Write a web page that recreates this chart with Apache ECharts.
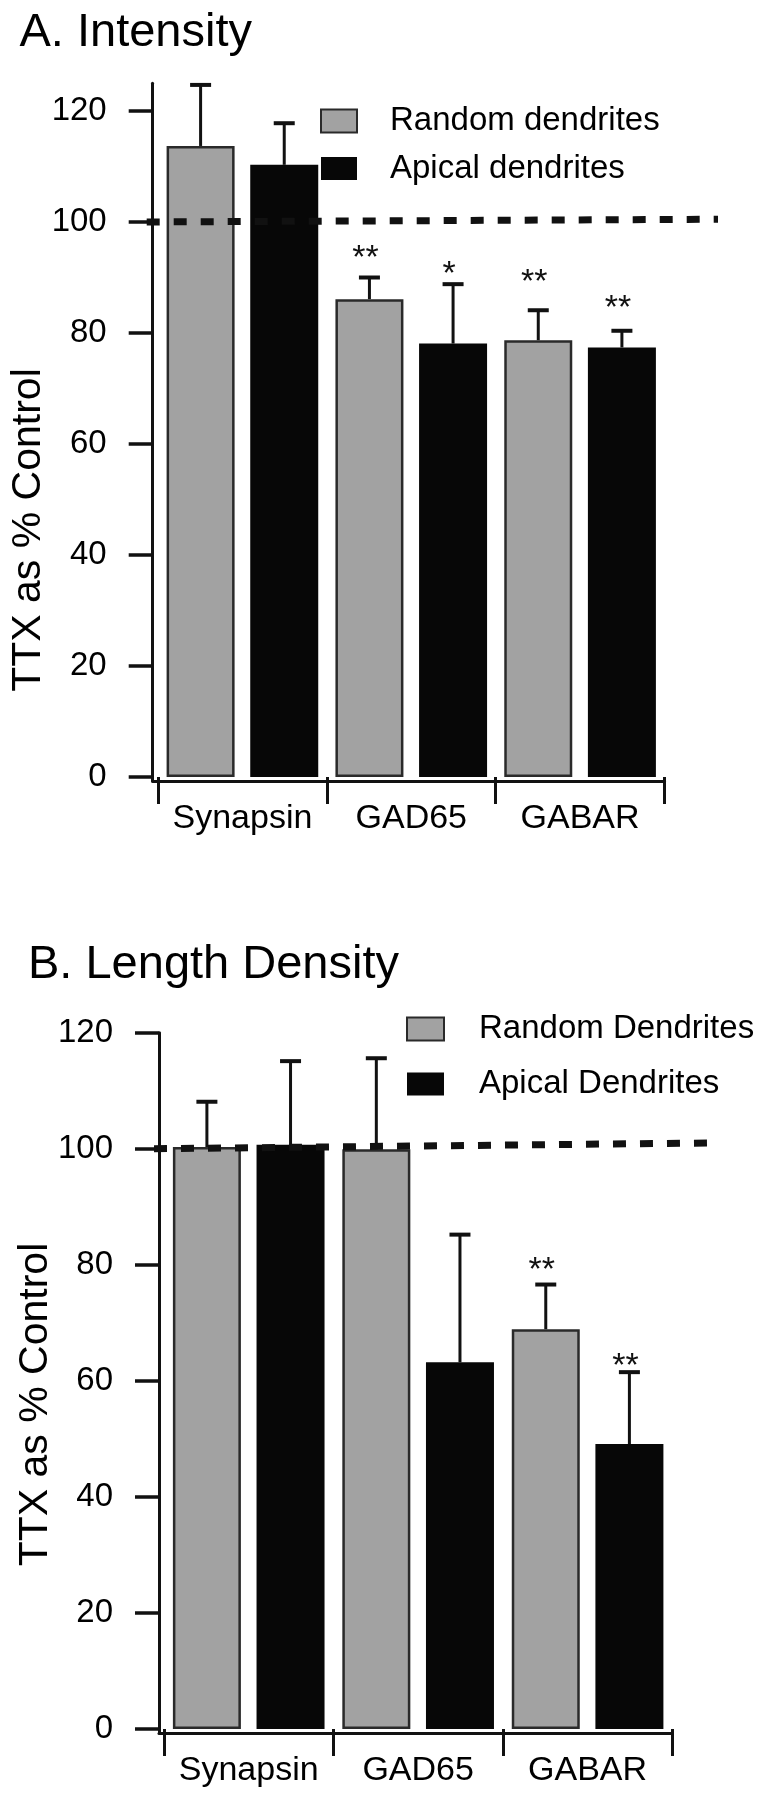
<!DOCTYPE html>
<html>
<head>
<meta charset="utf-8">
<script src="https://cdn.jsdelivr.net/npm/echarts@6/dist/echarts.min.js"></script>
<style>
html,body{margin:0;padding:0;background:#fff;}
#chart{width:775px;height:1800px;}
</style>
</head>
<body>
<div id="chart"></div>
<script>
// ---------- data ----------
const categories = ['Synapsin', 'GAD65', 'GABAR'];
const yTickValues = [0, 20, 40, 60, 80, 100, 120];

// Panel A: Intensity
const namesA = ['Random dendrites', 'Apical dendrites'];
const aRandom = [113.7, 86.1, 78.7];
const aRandomErr = [11.0, 3.9, 5.4];
const aApical = [110.3, 78.1, 77.4];
const aApicalErr = [7.5, 10.7, 3.0];
const aRandomSig = ['', '**', '**'];
const aApicalSig = ['', '*', '**'];
const aRandomSigAt = [null, 94.6, 90.3];
const aApicalSigAt = [null, 91.7, 85.6];
const aControl = [100, 100.5];

// Panel B: Length Density
const namesB = ['Random Dendrites', 'Apical Dendrites'];
const bRandom = [100.3, 99.9, 68.9];
const bRandomErr = [7.8, 15.7, 7.7];
const bApical = [100.7, 63.2, 49.1];
const bApicalErr = [14.4, 22.0, 12.4];
const bRandomSig = ['', '', '**'];
const bApicalSig = ['', '', '**'];
const bRandomSigAt = [null, null, 80.2];
const bApicalSigAt = [null, null, 63.6];
const bControl = [100, 101];

// ---------- style ----------
const FONT = '"Liberation Sans", Arial, Helvetica, sans-serif';
const INK = '#111';
const GRAY = '#a2a2a2';
const BLACK = '#070707';
const BAR_W = 68;
const BAR_GAP_PCT = 23;
const SHIFT = (BAR_W + BAR_W * BAR_GAP_PCT / 100) / 2;

function makeErr(means, errs, sig, sigAt, side) {
  return function (params, api) {
    const i = params.dataIndex;
    const cx = api.coord([i, 0])[0] + side * SHIFT;
    const yb = api.coord([i, means[i]])[1];
    const yt = api.coord([i, means[i] + errs[i]])[1];
    const children = [
      { type: 'line', shape: { x1: cx, y1: yb, x2: cx, y2: yt }, style: { stroke: INK, lineWidth: 3 } },
      { type: 'line', shape: { x1: cx - 10.5, y1: yt, x2: cx + 10.5, y2: yt }, style: { stroke: INK, lineWidth: 4 } }
    ];
    if (sig[i]) {
      const ys = api.coord([i, sigAt[i]])[1];
      children.push({
        type: 'text', x: cx - 4, y: ys + 7,
        style: { text: sig[i], font: '34px ' + FONT, fill: INK, align: 'center', verticalAlign: 'middle' }
      });
    }
    return { type: 'group', children: children };
  };
}

function panel(cfg) {
  const g = cfg.base;
  const grids = [
    { left: cfg.left, top: cfg.top, width: cfg.width, height: cfg.height },
    { left: cfg.refLeft, top: cfg.top, width: cfg.refWidth, height: cfg.height },
    { left: cfg.frameLeft, top: cfg.top, width: cfg.frameWidth, height: cfg.height + cfg.xOffset }
  ];
  const xAxes = [
    {
      gridIndex: g, type: 'category', data: categories, offset: cfg.xOffset,
      axisLine: { show: false },
      axisTick: { show: true, length: 27, lineStyle: { color: INK, width: 3 } },
      axisLabel: { fontFamily: FONT, fontSize: 34, color: '#000', margin: 21, interval: 0, hideOverlap: false },
      splitLine: { show: false }
    },
    { gridIndex: g + 1, type: 'value', min: 0, max: 1, show: false },
    {
      gridIndex: g + 2, type: 'value', min: 0, max: 1,
      axisLine: { show: true, lineStyle: { color: INK, width: 3 } },
      axisTick: { show: false }, axisLabel: { show: false }, splitLine: { show: false }
    }
  ];
  const yAxes = [
    {
      gridIndex: g, type: 'value', min: 0, max: cfg.yMax, interval: 20, offset: cfg.yOffset,
      axisLine: { show: false },
      axisTick: { show: true, length: 24, lineStyle: { color: INK, width: 3.5 }, customValues: yTickValues },
      axisLabel: {
        fontFamily: FONT, fontSize: 33, color: '#000', margin: 46, customValues: yTickValues,
        formatter: function (v) { return yTickValues.indexOf(v) >= 0 ? String(v) : ''; }
      },
      splitLine: { show: false }
    },
    { gridIndex: g + 1, type: 'value', min: 0, max: cfg.yMax, show: false },
    {
      gridIndex: g + 2, type: 'value', min: 0, max: 1,
      axisLine: { show: true, lineStyle: { color: INK, width: 3 } },
      axisTick: { show: false }, axisLabel: { show: false }, splitLine: { show: false }
    }
  ];
  const series = [
    {
      type: 'bar', name: cfg.names[0], xAxisIndex: g, yAxisIndex: g, data: cfg.random,
      barWidth: BAR_W, barGap: BAR_GAP_PCT + '%',
      itemStyle: { color: GRAY, borderColor: '#2a2a2a', borderWidth: 2.5 }, z: 2
    },
    {
      type: 'bar', name: cfg.names[1], xAxisIndex: g, yAxisIndex: g, data: cfg.apical,
      barWidth: BAR_W, barGap: BAR_GAP_PCT + '%',
      itemStyle: { color: BLACK, borderColor: BLACK, borderWidth: 0 }, z: 2
    },
    {
      type: 'custom', xAxisIndex: g, yAxisIndex: g,
      data: categories.map((c, i) => [i, cfg.random[i] + cfg.randomErr[i]]),
      encode: { x: 0, y: 1 },
      renderItem: makeErr(cfg.random, cfg.randomErr, cfg.randomSig, cfg.randomSigAt, -1), z: 4
    },
    {
      type: 'custom', xAxisIndex: g, yAxisIndex: g,
      data: categories.map((c, i) => [i, cfg.apical[i] + cfg.apicalErr[i]]),
      encode: { x: 0, y: 1 },
      renderItem: makeErr(cfg.apical, cfg.apicalErr, cfg.apicalSig, cfg.apicalSigAt, 1), z: 4
    },
    {
      type: 'line', xAxisIndex: g + 1, yAxisIndex: g + 1,
      data: [[0, cfg.control[0]], [1, cfg.control[1]]],
      symbol: 'none', silent: true,
      lineStyle: { color: INK, width: 7, type: [13, 14] }, z: 10
    }
  ];
  return { grids, xAxes, yAxes, series };
}

const pA = panel({
  base: 0, left: 158, top: 83.25, width: 506.5, height: 693.75,
  refLeft: 146.7, refWidth: 571.3, frameLeft: 152.7, frameWidth: 511.8,
  xOffset: 4, yOffset: 5.3, yMax: 125, names: namesA,
  random: aRandom, randomErr: aRandomErr, apical: aApical, apicalErr: aApicalErr,
  randomSig: aRandomSig, apicalSig: aApicalSig, randomSigAt: aRandomSigAt, apicalSigAt: aApicalSigAt,
  control: aControl
});
const pB = panel({
  base: 3, left: 164, top: 1032.7, width: 508.3, height: 696.3,
  refLeft: 154, refWidth: 558, frameLeft: 159, frameWidth: 513.3,
  xOffset: 4, yOffset: 5, yMax: 120, names: namesB,
  random: bRandom, randomErr: bRandomErr, apical: bApical, apicalErr: bApicalErr,
  randomSig: bRandomSig, apicalSig: bApicalSig, randomSigAt: bRandomSigAt, apicalSigAt: bApicalSigAt,
  control: bControl
});

const option = {
  animation: false,
  backgroundColor: '#fff',
  title: [
    { text: 'A. Intensity', left: 19.5, top: 10, padding: 0,
      textStyle: { fontFamily: FONT, fontSize: 47, fontWeight: 'normal', color: '#000', lineHeight: 47 } },
    { text: 'B. Length Density', left: 28, top: 942, padding: 0,
      textStyle: { fontFamily: FONT, fontSize: 47, fontWeight: 'normal', color: '#000', lineHeight: 47 } }
  ],
  legend: [
    { data: namesA, orient: 'vertical', left: 320, top: 104.5, padding: 0,
      itemWidth: 36, itemHeight: 23, itemGap: 14.5, icon: 'rect', selectedMode: false,
      textStyle: { fontFamily: FONT, fontSize: 33, color: '#000', lineHeight: 24, padding: [0, 0, 6, 28] } },
    { data: namesB, orient: 'vertical', left: 406, top: 1012.5, padding: 0,
      itemWidth: 37, itemHeight: 23, itemGap: 22, icon: 'rect', selectedMode: false,
      textStyle: { fontFamily: FONT, fontSize: 33, color: '#000', lineHeight: 24, padding: [0, 0, 0, 30] } }
  ],
  grid: pA.grids.concat(pB.grids),
  xAxis: pA.xAxes.concat(pB.xAxes),
  yAxis: pA.yAxes.concat(pB.yAxes),
  series: pA.series.concat(pB.series),
  graphic: [
    { type: 'text', x: 28.5, y: 530, rotation: Math.PI / 2,
      style: { text: 'TTX as % Control', font: '41px ' + FONT, fill: '#000', align: 'center', verticalAlign: 'middle' } },
    { type: 'text', x: 35.5, y: 1404.5, rotation: Math.PI / 2,
      style: { text: 'TTX as % Control', font: '41px ' + FONT, fill: '#000', align: 'center', verticalAlign: 'middle' } }
  ]
};

const chart = echarts.init(document.getElementById('chart'), null, { renderer: 'canvas' });
chart.setOption(option);
</script>
</body>
</html>
